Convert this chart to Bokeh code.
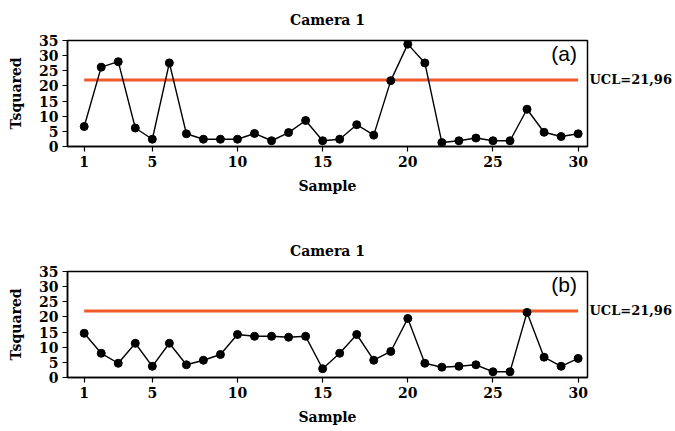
from bokeh.plotting import figure
from bokeh.layouts import column
from bokeh.models import FixedTicker, Range1d, LinearAxis, Label
from bokeh.embed import file_html
from bokeh.resources import INLINE

samples = list(range(1, 31))
tsq_a = [6.6, 26.2, 28.0, 6.1, 2.4, 27.6, 4.2, 2.4, 2.4, 2.4,
         4.3, 1.9, 4.6, 8.6, 1.9, 2.4, 7.2, 3.75, 21.75, 33.8,
         27.6, 1.3, 1.9, 2.8, 1.9, 1.9, 12.3, 4.7, 3.3, 4.2]
tsq_b = [14.6, 8.0, 4.7, 11.3, 3.7, 11.3, 4.2, 5.7, 7.6, 14.2,
         13.6, 13.6, 13.3, 13.6, 2.9, 8.0, 14.2, 5.7, 8.6, 19.5,
         4.7, 3.4, 3.7, 4.2, 1.9, 1.9, 21.5, 6.7, 3.7, 6.3]
ucl = 21.96
ucl_text = "UCL=21,96"
titles = ["Camera 1", "Camera 1"]
panel_tags = ["(a)", "(b)"]
x_ticks = [1, 5, 10, 15, 20, 25, 30]
y_ticks = [0, 5, 10, 15, 20, 25, 30, 35]

SERIF = "DejaVu Serif"
X0, X1 = 0.02, 30.55
Y0, Y1 = 0.0, 35.0


def style_axis(ax):
    ax.axis_line_width = 1.5
    ax.axis_line_color = "black"
    ax.major_tick_in = 0
    ax.major_tick_out = 5
    ax.major_tick_line_width = 1.2
    ax.minor_tick_line_color = None
    ax.major_label_text_font = SERIF
    ax.major_label_text_font_style = "bold"
    ax.major_label_text_font_size = "14px"
    ax.major_label_text_color = "black"
    ax.axis_label_text_font = SERIF
    ax.axis_label_text_font_style = "bold"
    ax.axis_label_text_font_size = "14px"
    ax.axis_label_text_color = "black"


def make_panel(vals, title, tag, height, top, bottom):
    p = figure(width=675, height=height, output_backend="svg",
               toolbar_location=None, x_range=Range1d(X0, X1),
               y_range=Range1d(Y0, Y1),
               min_border_left=67, min_border_right=88,
               min_border_top=top, min_border_bottom=bottom)
    p.grid.visible = False
    p.outline_line_color = "black"
    p.outline_line_width = 1.5
    p.background_fill_color = "white"
    p.border_fill_color = "white"

    p.title.text = title
    p.title.align = "center"
    p.title.vertical_align = "top"
    p.title.offset = 13
    p.title.standoff = 22
    p.title.text_line_height = 1.0
    p.title.text_font = SERIF
    p.title.text_font_style = "bold"
    p.title.text_font_size = "14px"
    p.title.text_color = "black"

    style_axis(p.xaxis[0])
    style_axis(p.yaxis[0])
    p.xaxis.ticker = FixedTicker(ticks=x_ticks)
    p.yaxis.ticker = FixedTicker(ticks=y_ticks)
    p.xaxis.axis_label = "Sample"
    p.yaxis.axis_label = "Tsquared"
    p.xaxis.major_label_standoff = 4
    p.xaxis.axis_label_standoff = 8
    p.yaxis.major_label_standoff = 4
    p.yaxis.axis_label_standoff = 12

    rax = LinearAxis(ticker=FixedTicker(ticks=[ucl]),
                     major_label_overrides={ucl: ucl_text})
    style_axis(rax)
    rax.axis_line_color = None
    rax.major_tick_line_color = None
    rax.major_tick_out = 0
    rax.major_label_standoff = 2
    rax.major_label_text_font_size = "13px"
    p.add_layout(rax, "right")

    p.line([samples[0], samples[-1]], [ucl, ucl], line_color="#EE5A2A",
           line_width=3)
    p.line(samples, vals, line_color="black", line_width=1.4)
    p.scatter(samples, vals, size=8, marker="circle", fill_color="black",
              line_color="black")

    p.add_layout(Label(x=29.93, y=Y1 - 4.3, text=tag,
                       text_baseline="middle", text_align="right",
                       text_font="Liberation Sans", text_font_size="21px",
                       text_color="black"))
    return p


p1 = make_panel(tsq_a, titles[0], panel_tags[0], 231, 40, 85)
p2 = make_panel(tsq_b, titles[1], panel_tags[1], 200, 40, 54)
layout = column(p1, p2, spacing=0)

open("out.html", "w").write(file_html(layout, INLINE))
